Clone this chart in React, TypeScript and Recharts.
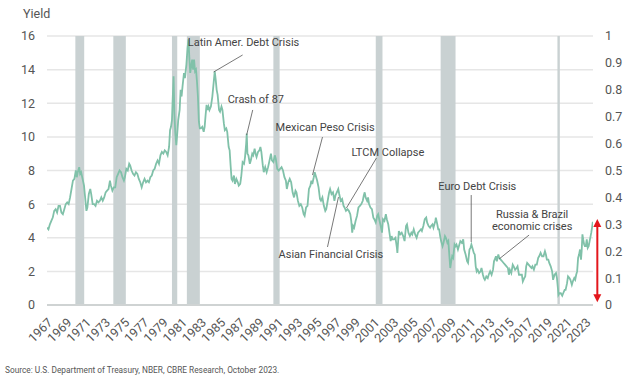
import React from 'react';
import {
  ComposedChart,
  Line,
  XAxis,
  YAxis,
  CartesianGrid,
  ReferenceArea,
  ReferenceLine,
  ReferenceDot,
} from 'recharts';

// 10-year Treasury yield, [decimal year, %]
const yield1960s: [number, number][] = [
  [1967.0, 4.6], [1967.15, 4.5], [1967.3, 4.8], [1967.45, 5.0], [1967.6, 5.2], [1967.75, 5.6], [1967.9, 5.7],
  [1968.05, 5.5], [1968.2, 5.9], [1968.35, 5.9], [1968.5, 5.5], [1968.65, 5.4], [1968.8, 5.7], [1968.95, 6.0],
  [1969.1, 6.1], [1969.25, 6.0], [1969.4, 6.4], [1969.55, 6.9], [1969.7, 7.4], [1969.85, 7.5],
];

const yield1970s: [number, number][] = [
  [1970.0, 8.0], [1970.1, 7.6], [1970.2, 7.9], [1970.35, 8.2], [1970.45, 7.8], [1970.55, 7.9], [1970.7, 7.5],
  [1970.85, 7.1], [1970.95, 6.5], [1971.1, 5.6], [1971.2, 5.8], [1971.35, 6.6], [1971.5, 6.9], [1971.6, 6.6],
  [1971.75, 6.0], [1971.9, 6.0], [1972.05, 5.9], [1972.2, 6.2], [1972.35, 6.1], [1972.5, 6.2], [1972.65, 6.4],
  [1972.8, 6.2], [1972.95, 6.4], [1973.1, 6.7], [1973.25, 6.8], [1973.4, 6.9], [1973.55, 7.4], [1973.65, 7.1],
  [1973.8, 6.8], [1973.95, 7.0], [1974.1, 7.0], [1974.25, 7.6], [1974.4, 7.8], [1974.55, 8.0], [1974.7, 7.9],
  [1974.85, 7.6], [1975.0, 7.4], [1975.1, 7.6], [1975.25, 8.1], [1975.4, 8.0], [1975.55, 8.4], [1975.65, 8.3],
  [1975.8, 8.0], [1975.95, 7.8], [1976.1, 7.7], [1976.25, 7.9], [1976.4, 7.8], [1976.55, 7.5], [1976.7, 7.3],
  [1976.85, 7.0], [1977.0, 7.3], [1977.15, 7.5], [1977.3, 7.3], [1977.45, 7.4], [1977.6, 7.3], [1977.75, 7.6],
  [1977.9, 7.7], [1978.05, 8.0], [1978.2, 8.1], [1978.35, 8.4], [1978.5, 8.6], [1978.65, 8.4], [1978.8, 8.9],
  [1978.95, 9.1], [1979.1, 9.0], [1979.25, 9.2], [1979.4, 9.1], [1979.55, 8.9], [1979.7, 9.4], [1979.8, 10.4],
  [1979.9, 10.6],
];

const yield1980s: [number, number][] = [
  [1980.0, 11.0], [1980.1, 12.6], [1980.17, 13.6], [1980.25, 11.4], [1980.35, 10.2], [1980.45, 9.5], [1980.55, 10.2],
  [1980.65, 11.0], [1980.8, 11.6], [1980.9, 12.8], [1981.0, 12.4], [1981.1, 13.0], [1981.25, 13.8], [1981.35, 13.5],
  [1981.5, 14.3], [1981.62, 15.3], [1981.72, 15.8], [1981.8, 14.8], [1981.9, 13.8], [1982.0, 14.2], [1982.1, 14.6],
  [1982.2, 14.0], [1982.3, 14.6], [1982.4, 13.9], [1982.5, 14.0], [1982.6, 13.3], [1982.7, 12.4], [1982.8, 10.9],
  [1982.9, 10.5], [1983.0, 10.5], [1983.15, 10.6], [1983.3, 10.3], [1983.4, 10.6], [1983.5, 11.3], [1983.6, 11.9],
  [1983.7, 11.6], [1983.8, 11.8], [1983.9, 11.6], [1984.05, 11.8], [1984.2, 12.4], [1984.35, 13.3], [1984.45, 13.9],
  [1984.55, 13.4], [1984.65, 12.8], [1984.75, 12.5], [1984.9, 11.6], [1985.0, 11.5], [1985.15, 11.8], [1985.25, 11.6],
  [1985.4, 10.8], [1985.5, 10.4], [1985.65, 10.5], [1985.75, 10.3], [1985.9, 9.4], [1986.0, 9.2], [1986.1, 8.3],
  [1986.2, 7.5], [1986.3, 7.4], [1986.45, 7.7], [1986.55, 7.2], [1986.7, 7.5], [1986.85, 7.3], [1986.95, 7.1],
  [1987.1, 7.2], [1987.2, 7.6], [1987.35, 8.5], [1987.5, 8.4], [1987.6, 8.8], [1987.72, 9.6], [1987.78, 10.2],
  [1987.85, 9.0], [1987.95, 8.9], [1988.1, 8.4], [1988.2, 8.6], [1988.35, 9.0], [1988.45, 8.9], [1988.6, 9.3],
  [1988.7, 9.0], [1988.8, 8.8], [1988.95, 9.1], [1989.1, 9.2], [1989.2, 9.4], [1989.3, 9.1], [1989.45, 8.3],
  [1989.55, 7.9], [1989.7, 8.2], [1989.85, 7.9],
];

const yield1990s: [number, number][] = [
  [1990.0, 8.2], [1990.15, 8.6], [1990.3, 9.0], [1990.4, 8.6], [1990.55, 8.5], [1990.7, 8.9], [1990.8, 8.7],
  [1990.95, 8.1], [1991.1, 8.0], [1991.25, 8.1], [1991.4, 8.2], [1991.55, 8.0], [1991.7, 7.6], [1991.85, 7.4],
  [1991.95, 6.9], [1992.1, 7.3], [1992.25, 7.5], [1992.4, 7.3], [1992.55, 6.7], [1992.7, 6.4], [1992.85, 6.8],
  [1992.95, 6.7], [1993.1, 6.2], [1993.25, 5.9], [1993.4, 6.0], [1993.55, 5.8], [1993.7, 5.4], [1993.8, 5.3],
  [1993.95, 5.8], [1994.1, 5.9], [1994.25, 6.9], [1994.4, 7.1], [1994.5, 7.4], [1994.6, 7.2], [1994.75, 7.6],
  [1994.85, 7.9], [1994.95, 7.7], [1995.1, 7.4], [1995.25, 7.0], [1995.4, 6.3], [1995.5, 6.2], [1995.65, 6.4],
  [1995.8, 5.9], [1995.95, 5.6], [1996.05, 5.7], [1996.2, 6.2], [1996.35, 6.7], [1996.45, 6.9], [1996.6, 6.6],
  [1996.75, 6.7], [1996.9, 6.2], [1997.0, 6.5], [1997.15, 6.7], [1997.3, 6.9], [1997.4, 6.6], [1997.55, 6.2],
  [1997.7, 6.3], [1997.85, 5.9], [1997.95, 5.8], [1998.1, 5.6], [1998.25, 5.7], [1998.4, 5.6], [1998.55, 5.4],
  [1998.65, 5.0], [1998.75, 4.3], [1998.85, 4.7], [1998.95, 4.6], [1999.1, 5.0], [1999.25, 5.3], [1999.4, 5.8],
  [1999.55, 5.9], [1999.7, 6.0], [1999.85, 6.2], [1999.95, 6.5],
];

const yield2000s: [number, number][] = [
  [2000.05, 6.7], [2000.15, 6.4], [2000.3, 6.2], [2000.4, 6.4], [2000.5, 6.0], [2000.65, 5.8], [2000.8, 5.7],
  [2000.95, 5.2], [2001.05, 5.1], [2001.2, 4.9], [2001.35, 5.3], [2001.45, 5.4], [2001.6, 5.0], [2001.75, 4.6],
  [2001.85, 4.3], [2001.95, 5.1], [2002.1, 5.0], [2002.25, 5.4], [2002.35, 5.1], [2002.5, 4.8], [2002.65, 4.2],
  [2002.75, 3.8], [2002.85, 4.1], [2002.95, 3.9], [2003.1, 3.9], [2003.25, 4.0], [2003.4, 3.4], [2003.45, 3.1],
  [2003.6, 4.4], [2003.75, 4.2], [2003.9, 4.3], [2004.05, 4.1], [2004.2, 3.8], [2004.35, 4.7], [2004.45, 4.8],
  [2004.6, 4.3], [2004.75, 4.1], [2004.9, 4.3], [2005.0, 4.2], [2005.15, 4.5], [2005.3, 4.2], [2005.45, 4.0],
  [2005.6, 4.3], [2005.75, 4.4], [2005.9, 4.5], [2006.0, 4.4], [2006.15, 4.7], [2006.3, 5.1], [2006.45, 5.2],
  [2006.55, 4.9], [2006.7, 4.7], [2006.85, 4.6], [2006.95, 4.7], [2007.1, 4.8], [2007.2, 4.6], [2007.4, 5.0],
  [2007.45, 5.2], [2007.6, 4.8], [2007.7, 4.5], [2007.8, 4.5], [2007.9, 4.1], [2008.0, 3.8], [2008.15, 3.5],
  [2008.25, 3.7], [2008.4, 4.1], [2008.5, 4.0], [2008.65, 3.7], [2008.75, 3.8], [2008.85, 3.0], [2008.95, 2.2],
  [2009.05, 2.6], [2009.15, 2.9], [2009.25, 2.8], [2009.4, 3.6], [2009.5, 3.5], [2009.6, 3.6], [2009.75, 3.3],
  [2009.9, 3.6],
];

const yield2010s: [number, number][] = [
  [2010.0, 3.8], [2010.15, 3.7], [2010.3, 3.9], [2010.4, 3.3], [2010.55, 3.0], [2010.7, 2.6], [2010.8, 2.5],
  [2010.95, 3.3], [2011.05, 3.4], [2011.15, 3.6], [2011.25, 3.4], [2011.4, 3.1], [2011.5, 3.0], [2011.6, 2.3],
  [2011.7, 2.0], [2011.8, 2.1], [2011.95, 1.9], [2012.1, 2.0], [2012.2, 2.2], [2012.35, 1.8], [2012.45, 1.6],
  [2012.55, 1.5], [2012.7, 1.7], [2012.85, 1.6], [2012.95, 1.8], [2013.1, 2.0], [2013.25, 1.8], [2013.4, 2.1],
  [2013.5, 2.6], [2013.65, 2.8], [2013.7, 2.9], [2013.8, 2.6], [2013.95, 3.0], [2014.05, 2.8], [2014.2, 2.7],
  [2014.35, 2.6], [2014.5, 2.5], [2014.65, 2.4], [2014.8, 2.3], [2014.95, 2.2], [2015.05, 1.8], [2015.15, 2.1],
  [2015.3, 1.9], [2015.45, 2.4], [2015.55, 2.3], [2015.7, 2.1], [2015.85, 2.2], [2015.95, 2.3], [2016.1, 1.8],
  [2016.25, 1.8], [2016.4, 1.8], [2016.5, 1.4], [2016.65, 1.6], [2016.75, 1.7], [2016.85, 2.3], [2016.95, 2.5],
  [2017.1, 2.4], [2017.25, 2.3], [2017.4, 2.2], [2017.5, 2.3], [2017.65, 2.1], [2017.8, 2.4], [2017.95, 2.4],
  [2018.1, 2.8], [2018.2, 2.9], [2018.35, 3.1], [2018.5, 2.9], [2018.65, 2.9], [2018.8, 3.2], [2018.9, 3.0],
  [2019.0, 2.7], [2019.15, 2.7], [2019.25, 2.5], [2019.4, 2.3], [2019.55, 2.0], [2019.65, 1.5], [2019.8, 1.8],
  [2019.95, 1.9],
];

const yield2020s: [number, number][] = [
  [2020.05, 1.6], [2020.15, 1.0], [2020.2, 0.6], [2020.3, 0.7], [2020.45, 0.7], [2020.6, 0.55], [2020.7, 0.7],
  [2020.85, 0.9], [2020.95, 0.9], [2021.1, 1.3], [2021.2, 1.7], [2021.35, 1.6], [2021.45, 1.5], [2021.6, 1.2],
  [2021.7, 1.4], [2021.85, 1.6], [2021.95, 1.5], [2022.05, 1.8], [2022.15, 2.0], [2022.25, 2.8], [2022.35, 3.0],
  [2022.45, 3.3], [2022.55, 2.7], [2022.62, 3.2], [2022.7, 4.2], [2022.78, 3.9], [2022.88, 3.6], [2022.95, 3.5],
  [2023.05, 3.5], [2023.15, 3.9], [2023.25, 3.4], [2023.35, 3.5], [2023.45, 3.8], [2023.55, 4.1], [2023.62, 4.3],
  [2023.7, 4.6], [2023.78, 4.95],
];

// NBER recessions [start, end]
const recessions: [number, number][] = [
  [1969.95, 1970.87],
  [1973.9, 1975.2],
  [1980.0, 1980.55],
  [1981.55, 1982.9],
  [1990.55, 1991.2],
  [2001.2, 2001.9],
  [2007.95, 2009.5],
  [2020.1, 2020.35],
];

const yearTicks = [
  1967, 1969, 1971, 1973, 1975, 1977, 1979, 1981, 1983, 1985, 1987, 1989, 1991, 1993, 1995,
  1997, 1999, 2001, 2003, 2005, 2007, 2009, 2011, 2013, 2015, 2017, 2019, 2021, 2023,
];
const leftTicks = [0, 2, 4, 6, 8, 10, 12, 14, 16];
const rightTicks = [0, 0.1, 0.2, 0.3, 0.4, 0.5, 0.6, 0.7, 0.8, 0.9, 1];

// annotation text: [label, year, yield, anchor]
const annotationText: [string, number, number, string][] = [
  ['Latin Amer. Debt Crisis', 1981.65, 15.6, 'start'],
  ['Crash of 87', 1985.8, 12.25, 'start'],
  ['Mexican Peso Crisis', 1990.78, 10.53, 'start'],
  ['LTCM Collapse', 1998.67, 9.1, 'start'],
  ['Asian Financial Crisis', 1991.09, 3.03, 'start'],
  ['Euro Debt Crisis', 2007.7, 7.02, 'start'],
  ['Russia & Brazil', 2017.47, 5.41, 'middle'],
  ['economic crises', 2017.47, 4.64, 'middle'],
];

// leader lines: [fromYear, fromYield, toYear, toYield]
const leaders: [number, number, number, number][] = [
  [1987.35, 14.87, 1984.34, 13.86],
  [1988.4, 11.6, 1987.77, 10.11],
  [1995.66, 9.99, 1994.62, 7.73],
  [2001.27, 8.74, 1998.15, 5.77],
  [1996.18, 3.45, 1997.32, 6.42],
  [2011.13, 6.54, 2011.13, 3.75],
  [2017.15, 4.16, 2014.04, 2.74],
];

// current spread arrow (right axis scale)
const arrowYear = 2024.25;
const arrowRange: [number, number] = [0.01, 0.32];

const data = [...yield1960s, ...yield1970s, ...yield1980s, ...yield1990s, ...yield2000s, ...yield2010s, ...yield2020s].map(
  ([year, value]) => ({ year, value })
);

const FONT = 'Roboto, "Noto Sans", sans-serif';
const LINE = '#80c1a9';
const RED = '#e3161c';

const ArrowShape = (props: any) => {
  const { x1, y1, x2, y2 } = props;
  const top = Math.min(y1, y2);
  const bottom = Math.max(y1, y2);
  return (
    <g>
      <line x1={x1} y1={top + 5} x2={x2} y2={bottom - 5} stroke={RED} strokeWidth={2} />
      <polygon points={`${x1},${top} ${x1 - 4},${top + 8} ${x1 + 4},${top + 8}`} fill={RED} />
      <polygon points={`${x1},${bottom} ${x1 - 4},${bottom - 8} ${x1 + 4},${bottom - 8}`} fill={RED} />
    </g>
  );
};

export default function App() {
  return (
    <div style={{ position: 'absolute', left: 0, top: 0, width: 640, height: 378, background: '#fff', fontFamily: FONT }}>
      <div style={{ position: 'absolute', left: 23, top: 6, fontSize: 12.5, color: '#555' }}>Yield</div>
      <ComposedChart width={640} height={360} data={data} margin={{ top: 36, right: 0, bottom: 2, left: 0 }}>
        <CartesianGrid vertical={false} stroke="#e6e6e6" strokeWidth={1.5} yAxisId="left" />
        <XAxis
          dataKey="year"
          type="number"
          domain={[1967, 2023.8]}
          allowDataOverflow
          ticks={yearTicks}
          interval={0}
          height={53}
          tickLine={false}
          tickMargin={6}
          axisLine={{ stroke: '#cfd3d3', strokeWidth: 2 }}
          angle={-45}
          textAnchor="end"
          tick={{ fontSize: 12.5, fill: '#555', fontFamily: FONT }}
        />
        <YAxis
          yAxisId="left"
          domain={[0, 16]}
          ticks={leftTicks}
          width={47}
          axisLine={false}
          tickLine={false}
          tickMargin={6}
          tick={{ fontSize: 12.5, fill: '#555', fontFamily: FONT }}
        />
        <YAxis
          yAxisId="right"
          orientation="right"
          type="number"
          domain={[0, 1]}
          allowDataOverflow
          ticks={rightTicks}
          width={47}
          axisLine={false}
          tickLine={false}
          tickMargin={6}
          tick={{ fontSize: 12.5, fill: '#555', fontFamily: FONT }}
        />
        {recessions.map(([x1, x2], i) => (
          <ReferenceArea
            key={`rec-${i}`}
            yAxisId="right"
            x1={x1}
            x2={x2}
            y1={0}
            y2={1}
            fill="#c9d1d2"
            fillOpacity={1}
            stroke="none"
          />
        ))}
        <Line
          yAxisId="left"
          type="linear"
          dataKey="value"
          stroke={LINE}
          strokeWidth={1.8}
          dot={false}
          isAnimationActive={false}
        />
        {leaders.map(([ax, ay, bx, by], i) => (
          <ReferenceLine
            key={`lead-${i}`}
            yAxisId="left"
            segment={[{ x: ax, y: ay }, { x: bx, y: by }]}
            stroke="#555"
            strokeWidth={0.8}
          />
        ))}
        {annotationText.map(([label, x, y, anchor], i) => (
          <ReferenceDot
            key={`txt-${i}`}
            yAxisId="left"
            x={x}
            y={y}
            r={0}
            shape={(p: any) => (
              <text
                x={p.cx}
                y={p.cy}
                textAnchor={anchor}
                dominantBaseline="central"
                fontSize={11}
                fill="#444"
                fontFamily={FONT}
              >
                {label}
              </text>
            )}
          />
        ))}
        <ReferenceLine
          yAxisId="right"
          ifOverflow="visible"
          segment={[{ x: arrowYear, y: arrowRange[1] }, { x: arrowYear, y: arrowRange[0] }]}
          shape={ArrowShape}
        />
      </ComposedChart>
      <div style={{ position: 'absolute', left: 5, top: 365, fontSize: 8.3, color: '#555' }}>
        Source: U.S. Department of Treasury, NBER, CBRE Research, October 2023.
      </div>
    </div>
  );
}
